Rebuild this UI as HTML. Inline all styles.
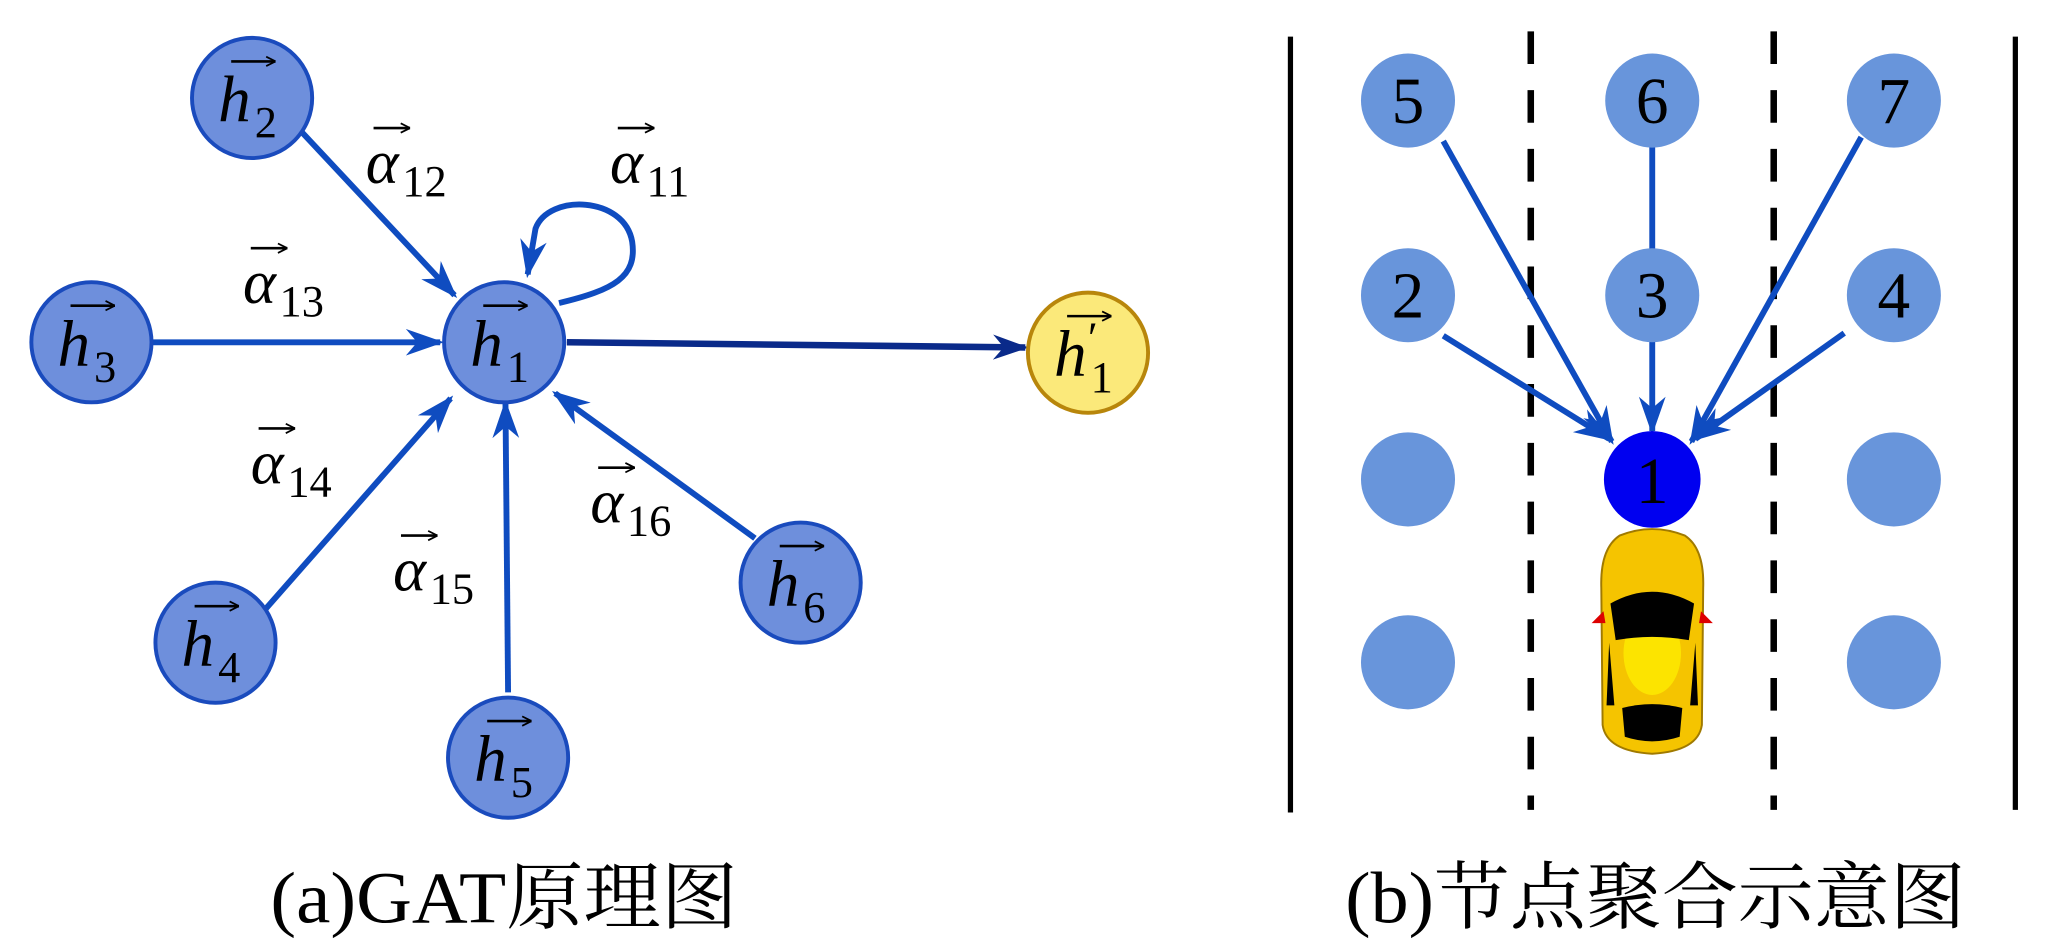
<!DOCTYPE html>
<html><head><meta charset="utf-8"><style>html,body{margin:0;padding:0;background:#fff}svg{display:block}</style></head>
<body>
<svg width="2048" height="951" viewBox="0 0 1568 728" preserveAspectRatio="none" xmlns="http://www.w3.org/2000/svg">
<defs>
<marker id="ah" viewBox="0 0 20 14" refX="18" refY="7" markerWidth="6.5" markerHeight="5" orient="auto" markerUnits="strokeWidth">
<path d="M0,0 L20,7 L0,14 L6,7 Z" fill="#0f4cc0"/></marker>
<marker id="ahd" viewBox="0 0 20 14" refX="18" refY="7" markerWidth="5.5" markerHeight="4.2" orient="auto" markerUnits="strokeWidth">
<path d="M0,0 L20,7 L0,14 L6,7 Z" fill="#0a2a8a"/></marker>
<marker id="va" viewBox="0 0 10 10" refX="10" refY="5" markerWidth="9" markerHeight="9" orient="auto" markerUnits="userSpaceOnUse">
<path d="M2,1 L10,5 L2,9" fill="none" stroke="#000" stroke-width="1.5"/></marker>
</defs>
<style>
.e{stroke:#0f4cc0;stroke-width:4.5;fill:none}
.n{fill:#6e8fdc;stroke:#1a4bbd;stroke-width:3}
.t{font-family:"Liberation Serif","DejaVu Serif","Noto Serif CJK SC",serif;fill:#000}
.h{font-style:italic;font-size:50px}
.s{font-size:34px}
.al{font-style:italic;font-size:48px}
.r{fill:#6895db}
.num{font-family:"Liberation Serif","DejaVu Serif","Noto Serif CJK SC",serif;font-size:50px;text-anchor:middle}
.cap{font-family:"Liberation Serif","DejaVu Serif","Noto Serif CJK SC",serif;font-size:56px}
</style>
<line class="e" x1="230" y1="100" x2="348" y2="226" marker-end="url(#ah)"/>
<line class="e" x1="117" y1="262" x2="337" y2="262" marker-end="url(#ah)"/>
<path class="e" d="M428,232 C470,222 488,212 484,185 C478,150 420,148 410,175 L404,210" marker-end="url(#ah)"/>
<line x1="434" y1="262" x2="785" y2="266" stroke="#0a2a8a" stroke-width="5" marker-end="url(#ahd)"/>
<line class="e" x1="200" y1="470" x2="345" y2="305" marker-end="url(#ah)"/>
<line class="e" x1="389" y1="530" x2="387" y2="309" marker-end="url(#ah)"/>
<line class="e" x1="578" y1="412" x2="425" y2="301" marker-end="url(#ah)"/>
<g>
<circle class="n" cx="193" cy="75" r="46"/>
<circle class="n" cx="70" cy="262" r="46"/>
<circle class="n" cx="386" cy="262" r="46"/>
<circle cx="833" cy="270" r="46" fill="#fbe97a" stroke="#b8860b" stroke-width="3"/>
<circle class="n" cx="165" cy="492" r="46"/>
<circle class="n" cx="389" cy="580" r="46"/>
<circle class="n" cx="613" cy="446" r="46"/>
</g>
<g class="t">
<g transform="translate(193,75)"><text class="h" x="-26" y="18">h</text><text class="s" x="2" y="30">2</text><line x1="-16" y1="-28" x2="18" y2="-28" stroke="#000" stroke-width="2" marker-end="url(#va)"/></g>
<g transform="translate(70,262)"><text class="h" x="-26" y="18">h</text><text class="s" x="2" y="30">3</text><line x1="-16" y1="-28" x2="18" y2="-28" stroke="#000" stroke-width="2" marker-end="url(#va)"/></g>
<g transform="translate(386,262)"><text class="h" x="-26" y="18">h</text><text class="s" x="2" y="30">1</text><line x1="-16" y1="-28" x2="18" y2="-28" stroke="#000" stroke-width="2" marker-end="url(#va)"/></g>
<g transform="translate(833,270)"><text class="h" x="-26" y="18">h</text><text class="s" x="0" y="0">′</text><text class="s" x="2" y="30">1</text><line x1="-16" y1="-28" x2="18" y2="-28" stroke="#000" stroke-width="2" marker-end="url(#va)"/></g>
<g transform="translate(165,492)"><text class="h" x="-26" y="18">h</text><text class="s" x="2" y="30">4</text><line x1="-16" y1="-28" x2="18" y2="-28" stroke="#000" stroke-width="2" marker-end="url(#va)"/></g>
<g transform="translate(389,580)"><text class="h" x="-26" y="18">h</text><text class="s" x="2" y="30">5</text><line x1="-16" y1="-28" x2="18" y2="-28" stroke="#000" stroke-width="2" marker-end="url(#va)"/></g>
<g transform="translate(613,446)"><text class="h" x="-26" y="18">h</text><text class="s" x="2" y="30">6</text><line x1="-16" y1="-28" x2="18" y2="-28" stroke="#000" stroke-width="2" marker-end="url(#va)"/></g>
<g transform="translate(280,140)"><text class="al" x="0" y="0">α</text><text class="s" x="28" y="10">12</text><line x1="6" y1="-42" x2="34" y2="-42" stroke="#000" stroke-width="2" marker-end="url(#va)"/></g>
<g transform="translate(467,140)"><text class="al" x="0" y="0">α</text><text class="s" x="28" y="10">11</text><line x1="6" y1="-42" x2="34" y2="-42" stroke="#000" stroke-width="2" marker-end="url(#va)"/></g>
<g transform="translate(186,232)"><text class="al" x="0" y="0">α</text><text class="s" x="28" y="10">13</text><line x1="6" y1="-42" x2="34" y2="-42" stroke="#000" stroke-width="2" marker-end="url(#va)"/></g>
<g transform="translate(192,370)"><text class="al" x="0" y="0">α</text><text class="s" x="28" y="10">14</text><line x1="6" y1="-42" x2="34" y2="-42" stroke="#000" stroke-width="2" marker-end="url(#va)"/></g>
<g transform="translate(301,452)"><text class="al" x="0" y="0">α</text><text class="s" x="28" y="10">15</text><line x1="6" y1="-42" x2="34" y2="-42" stroke="#000" stroke-width="2" marker-end="url(#va)"/></g>
<g transform="translate(452,400)"><text class="al" x="0" y="0">α</text><text class="s" x="28" y="10">16</text><line x1="6" y1="-42" x2="34" y2="-42" stroke="#000" stroke-width="2" marker-end="url(#va)"/></g>
</g>
<line x1="988" y1="28" x2="988" y2="622" stroke="#000" stroke-width="4"/>
<line x1="1543" y1="28" x2="1543" y2="620" stroke="#000" stroke-width="4"/>
<line x1="1172" y1="24" x2="1172" y2="620" stroke="#000" stroke-width="5" stroke-dasharray="25,20"/>
<line x1="1358" y1="24" x2="1358" y2="620" stroke="#000" stroke-width="5" stroke-dasharray="25,20"/>
<line class="e" x1="1105" y1="108" x2="1234" y2="338" marker-end="url(#ah)"/>
<line class="e" x1="1105" y1="257" x2="1232" y2="336" marker-end="url(#ah)"/>
<line class="e" x1="1265" y1="110" x2="1265" y2="192"/>
<line class="e" x1="1265" y1="260" x2="1265" y2="330" marker-end="url(#ah)"/>
<line class="e" x1="1425" y1="105" x2="1295" y2="338" marker-end="url(#ah)"/>
<line class="e" x1="1412" y1="255" x2="1298" y2="336" marker-end="url(#ah)"/>
<circle class="r" cx="1078" cy="77" r="36"/>
<circle class="r" cx="1265" cy="77" r="36"/>
<circle class="r" cx="1450" cy="77" r="36"/>
<circle class="r" cx="1078" cy="226" r="36"/>
<circle class="r" cx="1265" cy="226" r="36"/>
<circle class="r" cx="1450" cy="226" r="36"/>
<circle class="r" cx="1078" cy="367" r="36"/>
<circle class="r" cx="1450" cy="367" r="36"/>
<circle class="r" cx="1078" cy="507" r="36"/>
<circle class="r" cx="1450" cy="507" r="36"/>
<circle cx="1265" cy="367" r="37" fill="#0000f0"/>
<g class="num">
<text x="1078" y="94">5</text><text x="1265" y="94">6</text><text x="1450" y="94">7</text>
<text x="1078" y="243">2</text><text x="1265" y="243">3</text><text x="1450" y="243">4</text>
<text x="1265" y="385">1</text>
</g>
<g>
<path d="M1240,410 Q1265,400 1290,410 Q1305,420 1304,450 L1303,555 Q1300,575 1265,577 Q1230,575 1227,555 L1226,450 Q1225,420 1240,410 Z" fill="#f5c400" stroke="#a07a00" stroke-width="1.5"/>
<ellipse cx="1265" cy="500" rx="22" ry="32" fill="#fff200" opacity="0.7"/>
<path d="M1233,462 Q1265,444 1297,462 L1293,490 Q1265,485 1237,490 Z" fill="#000"/>
<path d="M1242,542 Q1265,536 1288,542 L1286,564 Q1265,571 1244,564 Z" fill="#000"/>
<path d="M1232,492 L1236,540 L1230,540 Z M1298,492 L1294,540 L1300,540 Z" fill="#000"/>
<path d="M1227,470 L1221,476 L1228,476 Z M1303,470 L1309,476 L1302,476 Z" fill="#d00" stroke="#d00" stroke-width="2"/>
</g>
<text class="cap" x="207" y="706" textLength="358" lengthAdjust="spacingAndGlyphs">(a)GAT原理图</text>
<text class="cap" x="1030" y="706" textLength="475" lengthAdjust="spacingAndGlyphs">(b)节点聚合示意图</text>
</svg>
</body></html>
